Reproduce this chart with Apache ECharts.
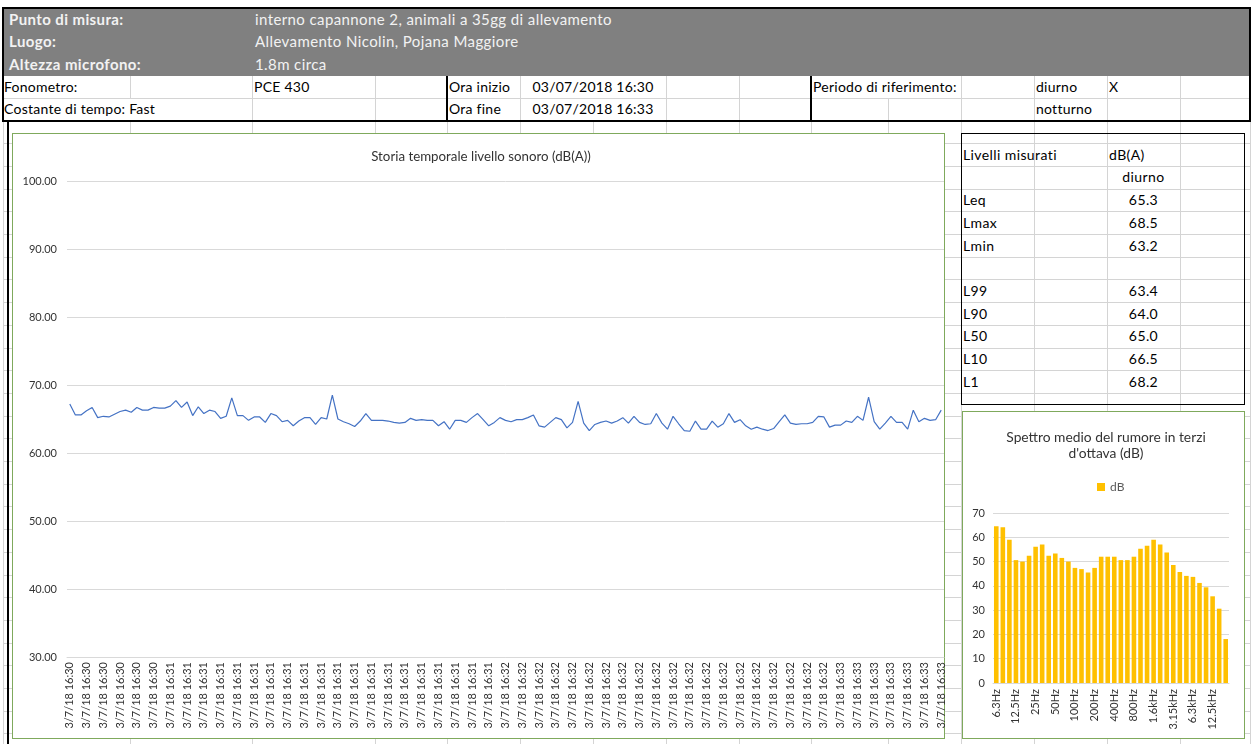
<!DOCTYPE html>
<html>
<head>
<meta charset="utf-8">
<script src="https://cdn.jsdelivr.net/npm/echarts@6/dist/echarts.min.js"></script>
<style>
  html,body{margin:0;padding:0;background:#fff;}
  #page{position:relative;width:1252px;height:744px;overflow:hidden;background:#fff;font-family:Lato,"Open Sans",sans-serif;}
  .ln{position:absolute;}
  .tx{position:absolute;white-space:nowrap;overflow:visible;}
  #chart{position:absolute;left:0;top:0;width:1252px;height:744px;z-index:10;}
</style>
</head>
<body>
<div id="page">
  <div id="sheet"></div>
  <div id="chart"></div>
</div>
<script>
// ---------------- DATA ----------------
const timeLabels = ['3/7/18 16:30', '3/7/18 16:31', '3/7/18 16:32', '3/7/18 16:33'];
const timeCounts = [18, 60, 60, 19];
const levels = [
  67.2, 65.6, 65.6, 66.2, 66.7, 65.2, 65.4, 65.3, 65.7, 66.1,
  66.3, 66.0, 66.7, 66.3, 66.3, 66.7, 66.6, 66.6, 66.9, 67.7,
  66.7, 67.5, 65.5, 66.8, 65.8, 66.3, 66.1, 65.1, 65.4, 68.1,
  65.5, 65.5, 64.8, 65.3, 65.3, 64.5, 65.8, 65.5, 64.6, 64.8,
  64.0, 64.7, 65.2, 65.2, 64.2, 65.2, 65.0, 68.5, 65.0, 64.6,
  64.3, 63.9, 64.7, 65.8, 64.8, 64.8, 64.8, 64.7, 64.5, 64.4,
  64.5, 65.1, 64.8, 64.9, 64.8, 64.8, 64.0, 64.6, 63.5, 64.8,
  64.8, 64.5, 65.2, 65.8, 64.9, 64.0, 64.5, 65.2,
  64.8, 64.6, 64.9, 64.9, 65.2, 65.6, 64.0, 63.8, 64.5, 65.2,
  64.9, 63.7, 64.5, 67.6, 64.4, 63.3, 64.2, 64.5, 64.7, 64.4,
  64.7, 65.2, 64.4, 65.4, 64.5, 64.2, 64.3, 65.8, 64.4, 63.5,
  65.4, 64.3, 63.3, 63.2, 64.7, 63.5, 63.5, 64.7, 63.8, 64.3,
  65.8, 64.5, 64.9, 64.0, 63.5, 63.8, 63.5, 63.3, 63.6, 64.6,
  65.6, 64.4, 64.2, 64.3, 64.3, 64.5, 65.4, 65.3, 63.8, 64.1,
  64.1, 64.7, 64.5, 65.4, 64.8, 68.2, 64.6, 63.5, 64.4, 65.4,
  64.5, 64.5, 63.5, 66.3, 64.6, 65.1, 64.8, 64.9, 66.3
];
const bandLabels = ['6.3Hz','8Hz','10Hz','12.5Hz','16Hz','20Hz','25Hz','31.5Hz','40Hz','50Hz','63Hz','80Hz',
  '100Hz','125Hz','160Hz','200Hz','250Hz','315Hz','400Hz','500Hz','630Hz','800Hz','1kHz','1.25kHz',
  '1.6kHz','2kHz','2.5kHz','3.15kHz','4kHz','5kHz','6.3kHz','8kHz','10kHz','12.5kHz','16kHz','20kHz'];
const bandValues = [64.5, 64.1, 59.0, 50.6, 50.0, 52.4, 56.1, 57.0, 52.4, 53.3, 51.5, 50.0,
  47.4, 46.9, 45.5, 47.4, 52.0, 52.0, 52.0, 50.6, 50.6, 52.0, 55.3, 56.5,
  59.0, 57.0, 53.7, 48.6, 45.7, 44.1, 43.7, 41.2, 39.4, 35.7, 30.6, 18.1];
const tableLabels = ['Leq', 'Lmax', 'Lmin', '', 'L99', 'L90', 'L50', 'L10', 'L1'];
const tableValues = ['65.3', '68.5', '63.2', '', '63.4', '64.0', '65.0', '66.5', '68.2'];
const headerLabels = ['Punto di misura:', 'Luogo:', 'Altezza microfono:'];
const headerValues = ['interno capannone 2, animali a 35gg di allevamento', 'Allevamento Nicolin, Pojana Maggiore', '1.8m circa'];

// ---------------- SHEET (layout) ----------------
const sheet = document.getElementById('sheet');
const COLS = [3,130,252,375,447,520,593,666,739,811,888,961,1034,1107,1180,1250];
const RH = 22.7;
const R0 = 7.5;
const rowY = k => R0 + RH * k;
const GRID = '#d4d4d4';
function box(x, y, w, h, css) {
  const d = document.createElement('div');
  d.className = 'ln';
  d.style.left = x + 'px'; d.style.top = y + 'px';
  d.style.width = w + 'px'; d.style.height = h + 'px';
  Object.assign(d.style, css || {});
  sheet.appendChild(d); return d;
}
function hline(x1, x2, y, c, w) { box(x1, y - (w||1)/2, x2 - x1, w||1, {background: c||GRID}); }
function vline(x, y1, y2, c, w) { box(x - (w||1)/2, y1, w||1, y2 - y1, {background: c||GRID}); }
function text(x, y, w, h, s, css) {
  const d = document.createElement('div');
  d.className = 'tx';
  d.style.left = x + 'px'; d.style.top = y + 'px';
  d.style.width = w + 'px'; d.style.height = h + 'px';
  d.style.lineHeight = h + 'px';
  Object.assign(d.style, css || {});
  d.textContent = s;
  sheet.appendChild(d); return d;
}

// lower grid (rows from 121 down)
const yTop = rowY(5);
for (let k = 5; rowY(k) < 744; k++) hline(3, 1250, rowY(k));
COLS.forEach(x => vline(x, yTop, 744));

// gray header band
box(3, R0, 1247, RH * 3, {background: '#808080'});
for (let i = 0; i < 3; i++) {
  text(9, rowY(i), 240, RH, headerLabels[i], {color: '#f2f2f2', fontWeight: 'bold', fontSize: '15px', letterSpacing: '0.4px'});
  text(255, rowY(i), 640, RH, headerValues[i], {color: '#f2f2f2', fontSize: '15px', letterSpacing: '0.4px'});
}

// rows 4-5
box(3, rowY(3), 1247, RH * 2, {background: '#fff'});
hline(3, 1250, rowY(4));
[130,252,375,520,666,739,961,1034,1107,1180].forEach(x => vline(x, rowY(3), rowY(4)));
[252,375,520,666,739,888,961,1034,1107,1180].forEach(x => vline(x, rowY(4), rowY(5)));
[447, 811].forEach(x => vline(x, rowY(3), rowY(5), '#000', 2));
const f13 = {fontSize: '14px', color: '#000', letterSpacing: '0.25px'};
text(4, rowY(3), 120, RH, 'Fonometro:', f13);
text(254, rowY(3), 120, RH, 'PCE 430', f13);
text(449, rowY(3), 70, RH, 'Ora inizio', f13);
text(520, rowY(3), 146, RH, '03/07/2018 16:30', Object.assign({textAlign: 'center'}, f13));
text(813, rowY(3), 150, RH, 'Periodo di riferimento:', f13);
text(1036, rowY(3), 70, RH, 'diurno', f13);
text(1109, rowY(3), 70, RH, 'X', f13);
text(4, rowY(4), 200, RH, 'Costante di tempo: Fast', f13);
text(449, rowY(4), 70, RH, 'Ora fine', f13);
text(520, rowY(4), 146, RH, '03/07/2018 16:33', Object.assign({textAlign: 'center'}, f13));
text(1036, rowY(4), 70, RH, 'notturno', f13);

// thick borders
hline(2, 1251, R0, '#000', 2);
hline(2, 1251, rowY(5), '#000', 2);
vline(3, R0, rowY(5), '#000', 2);
vline(1250, R0, rowY(5), '#000', 2);
vline(8, rowY(5), 744, '#000', 2);

// line chart box
box(12, 133, 933, 606, {background: '#fff', border: '1px solid #7fa95c', boxSizing: 'border-box'});
// bar chart box
box(962, 411, 283, 328, {background: '#fff', border: '1px solid #7fa95c', boxSizing: 'border-box'});
// table box
box(961, 133, 284, 272, {border: '1.5px solid #000', boxSizing: 'border-box', background: 'transparent', zIndex: 2});
const f12 = {fontSize: '14px', color: '#000', letterSpacing: '0.4px'};
text(963, rowY(6), 140, RH, 'Livelli misurati', f12);
text(1109, rowY(6), 70, RH, 'dB(A)', f12);
text(1107, rowY(7), 73, RH, 'diurno', Object.assign({textAlign: 'center'}, f12));
tableLabels.forEach((s, i) => {
  text(963, rowY(8 + i), 70, RH, s, f12);
  text(1107, rowY(8 + i), 73, RH, tableValues[i], Object.assign({textAlign: 'center'}, f12));
});

// ---------------- CHARTS ----------------
const cats = [];
timeLabels.forEach((t, i) => { for (let j = 0; j < timeCounts[i]; j++) cats.push(t); });

const FONT = 'Lato';
const chart = echarts.init(document.getElementById('chart'), null, {renderer: 'canvas'});
chart.setOption({
  animation: false,
  backgroundColor: 'transparent',
  title: [
    {text: 'Storia temporale livello sonoro (dB(A))', left: 476, top: 145, textAlign: 'center',
     textStyle: {fontFamily: FONT, fontSize: 13.3, fontWeight: 'normal', color: '#333'}},
    {text: "Spettro medio del rumore in terzi\nd'ottava (dB)", left: 1101, top: 425, textAlign: 'center',
     textStyle: {fontFamily: FONT, fontSize: 13.8, fontWeight: 'normal', color: '#333', lineHeight: 16}}
  ],
  legend: {data: ['dB'], left: 1092, top: 476, icon: 'rect', itemWidth: 8, itemHeight: 8, itemGap: 4,
    textStyle: {fontFamily: FONT, fontSize: 12, color: '#595959'}},
  grid: [
    {left: 67, top: 181, width: 877, height: 476},
    {left: 993, top: 513, width: 236, height: 170}
  ],
  xAxis: [
    {type: 'category', gridIndex: 0, data: cats, boundaryGap: true,
     axisTick: {show: false}, axisLine: {lineStyle: {color: '#d9d9d9'}},
     axisLabel: {interval: 2, rotate: 90, fontFamily: FONT, fontSize: 11, color: '#333', margin: 5}},
    {type: 'category', gridIndex: 1, data: bandLabels, boundaryGap: true,
     axisTick: {show: false}, axisLine: {lineStyle: {color: '#d9d9d9'}},
     axisLabel: {interval: 2, rotate: 90, fontFamily: FONT, fontSize: 11, color: '#333', margin: 6}}
  ],
  yAxis: [
    {type: 'value', gridIndex: 0, min: 30, max: 100, interval: 10,
     axisLine: {show: false}, axisTick: {show: false},
     splitLine: {lineStyle: {color: '#d9d9d9'}},
     axisLabel: {formatter: v => v.toFixed(2), fontFamily: FONT, fontSize: 11, color: '#333', margin: 10}},
    {type: 'value', gridIndex: 1, min: 0, max: 70, interval: 10,
     axisLine: {show: false}, axisTick: {show: false},
     splitLine: {lineStyle: {color: '#d9d9d9'}},
     axisLabel: {fontFamily: FONT, fontSize: 11, color: '#333', margin: 8}}
  ],
  series: [
    {type: 'line', name: 'Livello', xAxisIndex: 0, yAxisIndex: 0, data: levels, symbol: 'none',
     lineStyle: {color: '#4472c4', width: 1.2}, itemStyle: {color: '#4472c4'}},
    {type: 'bar', name: 'dB', xAxisIndex: 1, yAxisIndex: 1, data: bandValues, barWidth: '70%',
     itemStyle: {color: '#ffc000'}}
  ]
});
</script>
</body>
</html>
